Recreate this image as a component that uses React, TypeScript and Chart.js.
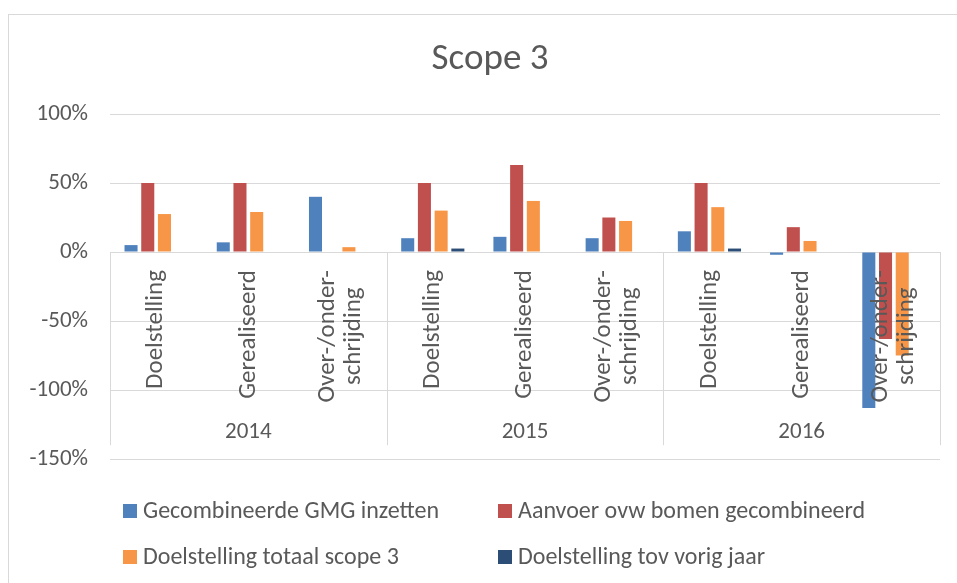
import React, { useEffect, useRef } from "react";
import { Chart, registerables } from "chart.js";

Chart.register(...registerables);

// ---- data ----
const titleText = "Scope 3";
const years = ["2014", "2015", "2016"];
const subCategories: string[][] = [
  ["Doelstelling"],
  ["Gerealiseerd"],
  ["Over-/onder-", "schrijding"],
];
const categories: string[][] = years.flatMap(() => subCategories);

const seriesNames = [
  "Gecombineerde GMG inzetten",
  "Aanvoer ovw bomen gecombineerd",
  "Doelstelling totaal scope 3",
  "Doelstelling tov vorig jaar",
];
const gmgValues = [5, 7, 40, 10, 11, 10, 15, -2, -113];
const aanvoerValues = [50, 50, 0, 50, 63, 25, 50, 18, -63];
const totaalValues = [27.5, 29, 3.5, 30, 37, 22.5, 32.5, 8, -75];
const vorigJaarValues = [0, 0, 0, 2.5, 0, 0, 2.5, 0, 0];
const seriesColors = ["#4F81BD", "#C0504D", "#F79646", "#2C4D75"];

const yMin = -150;
const yMax = 100;
const yStep = 50;

// ---- styles ----
const FONT = "Carlito, Lato, sans-serif";
const TEXT = "#595959";
const GRID = "#d9d9d9";

const decorPlugin = {
  id: "decor",
  beforeDraw(chart: any) {
    const ctx = chart.ctx;
    ctx.save();
    ctx.fillStyle = "#ffffff";
    ctx.fillRect(0, 0, chart.width, chart.height);
    ctx.strokeStyle = GRID;
    ctx.lineWidth = 1;
    ctx.strokeRect(8.5, 14.5, chart.width + 40, chart.height + 40);
    ctx.fillStyle = TEXT;
    ctx.font = `37px ${FONT}`;
    ctx.textAlign = "center";
    ctx.textBaseline = "middle";
    ctx.fillText(titleText, 490, 60);
    ctx.restore();
  },
  afterDatasetsDraw(chart: any) {
    const ctx = chart.ctx;
    const x = chart.scales.x;
    const y = chart.scales.y;
    const y0 = y.getPixelForValue(0);
    const axisBottom = y.getPixelForValue(-140);
    const n = categories.length;
    const per = subCategories.length;
    const catW = (x.right - x.left) / n;
    ctx.save();
    // group separators
    ctx.strokeStyle = GRID;
    ctx.lineWidth = 1;
    for (let g = 0; g <= years.length; g++) {
      const px = Math.round(x.left + catW * per * g) + 0.5;
      ctx.beginPath();
      ctx.moveTo(px, y0);
      ctx.lineTo(px, axisBottom);
      ctx.stroke();
    }
    // category labels (rotated)
    ctx.fillStyle = TEXT;
    ctx.font = `25px ${FONT}`;
    ctx.textBaseline = "middle";
    ctx.textAlign = "center";
    const lineH = 26;
    categories.forEach((lines, i) => {
      const cx = x.getPixelForValue(i);
      const maxW = Math.max(...lines.map((l) => ctx.measureText(l).width));
      ctx.save();
      ctx.translate(cx, y0 + 18);
      ctx.rotate(-Math.PI / 2);
      lines.forEach((l, k) => {
        const off = (k - (lines.length - 1) / 2) * lineH;
        ctx.fillText(l, -maxW / 2, off);
      });
      ctx.restore();
    });
    // year labels
    ctx.font = `23px ${FONT}`;
    years.forEach((yr, g) => {
      const cx = x.left + catW * per * (g + 0.5);
      ctx.fillText(yr, cx, y0 + 180);
    });
    ctx.restore();
  },
  afterDraw(chart: any) {
    const ctx = chart.ctx;
    const colX = [123, 498];
    const rowY = [511, 557];
    ctx.save();
    ctx.font = `24px ${FONT}`;
    ctx.textAlign = "left";
    ctx.textBaseline = "middle";
    chart.data.datasets.forEach((ds: any, i: number) => {
      const cx = colX[i % 2];
      const cy = rowY[Math.floor(i / 2)];
      ctx.fillStyle = ds.backgroundColor;
      ctx.fillRect(cx, cy - 7, 14, 14);
      ctx.fillStyle = TEXT;
      ctx.fillText(ds.label, cx + 20, cy + 1);
    });
    ctx.restore();
  },
};

export default function App() {
  const canvasRef = useRef<HTMLCanvasElement | null>(null);

  useEffect(() => {
    if (!canvasRef.current) return;
    const valueSets = [gmgValues, aanvoerValues, totaalValues, vorigJaarValues];
    const chart = new Chart(canvasRef.current, {
      type: "bar",
      data: {
        labels: categories,
        datasets: seriesNames.map((name, i) => ({
          label: name,
          data: valueSets[i],
          backgroundColor: seriesColors[i],
          borderWidth: 0,
          categoryPercentage: 0.725,
          barPercentage: 0.78,
        })),
      },
      options: {
        responsive: false,
        animation: false,
        layout: { padding: { left: 0, top: 114, right: 17, bottom: 124 } },
        plugins: {
          legend: { display: false },
          title: { display: false },
          tooltip: { enabled: false },
        },
        scales: {
          x: { display: false },
          y: {
            min: yMin,
            max: yMax,
            ticks: {
              stepSize: yStep,
              padding: 22,
              color: TEXT,
              font: { family: FONT, size: 23 },
              callback: (v: any) => `${v}%`,
            },
            grid: { color: GRID, lineWidth: 1, drawTicks: false },
            border: { display: false },
            afterFit: (scale: any) => {
              scale.width = 110;
            },
          },
        },
      },
      plugins: [decorPlugin],
    });
    return () => chart.destroy();
  }, []);

  return (
    <div style={{ position: "absolute", left: 0, top: 0, width: 957, height: 583 }}>
      <canvas ref={canvasRef} width={957} height={583} />
    </div>
  );
}
